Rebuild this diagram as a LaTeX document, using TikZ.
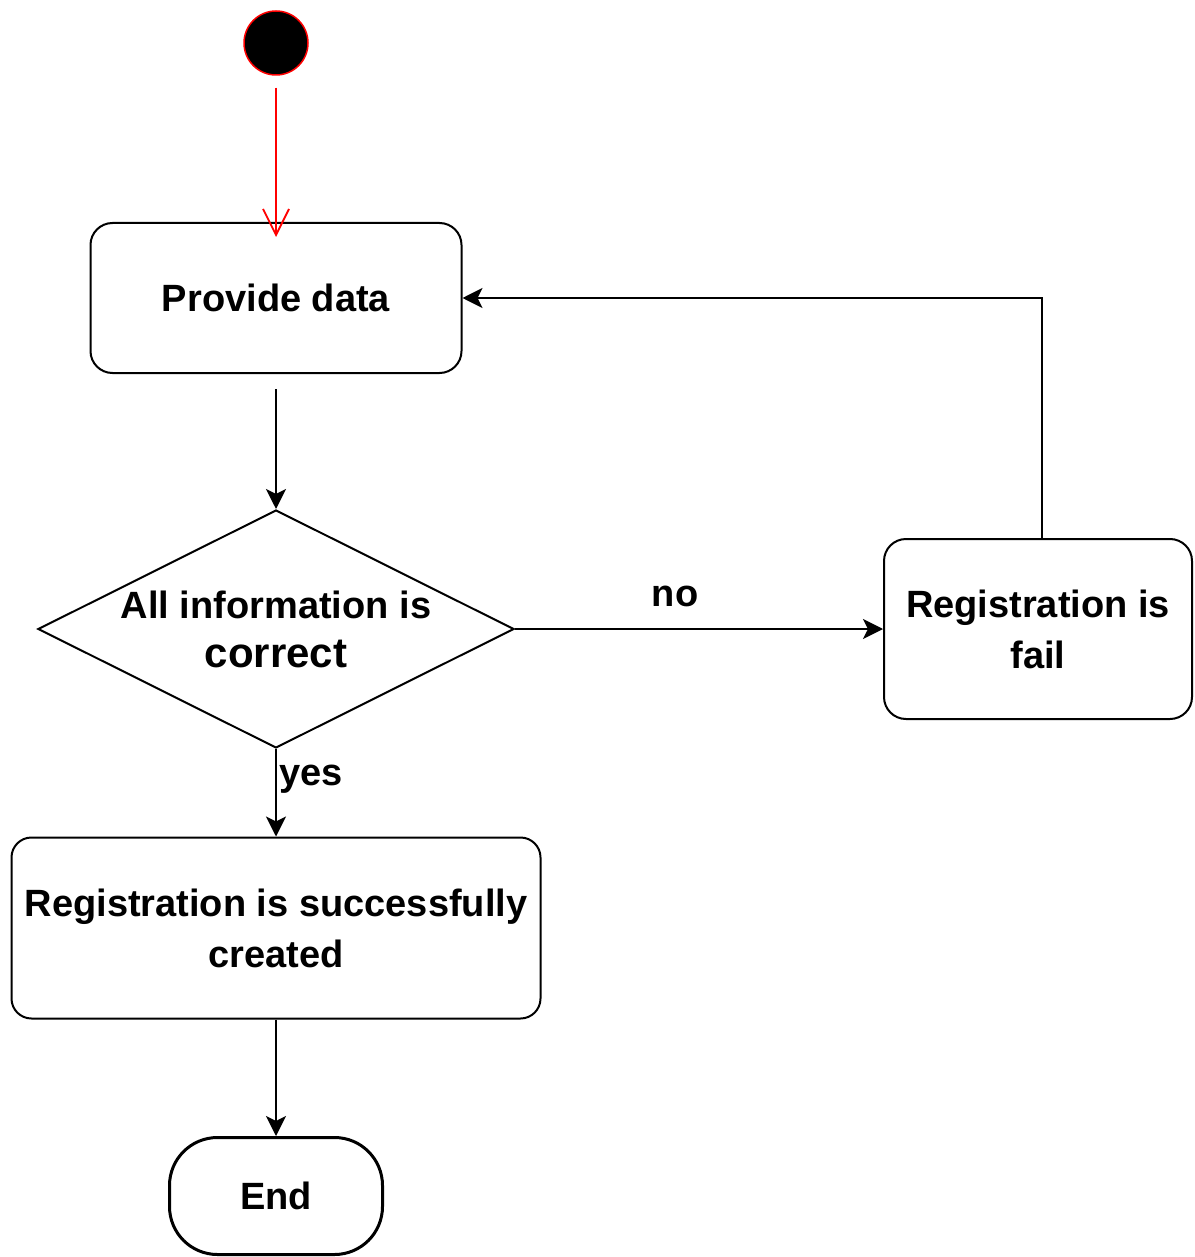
\documentclass[tikz,border=0pt]{standalone}
\usepackage{fontspec}
\setmainfont{Liberation Sans}
\usetikzlibrary{shapes.geometric,arrows.meta}

\begin{document}
\begin{tikzpicture}[x=1pt,y=-1pt,%%
  textStyle/.style={font=\fontsize{38}{51}\selectfont\bfseries,align=center,inner sep=0pt},%%
  boxStyle/.style={textStyle,draw,line width=2pt,rounded corners=22pt},%%
  decisionStyle/.style={textStyle,draw,line width=2pt,diamond,aspect=2,inner ysep=-10pt,%%
    minimum width=476pt,minimum height=238pt},%%
  startStyle/.style={circle,draw=red,fill=black,line width=1.5pt,minimum size=64pt,inner sep=0pt},%%
  endStyle/.style={textStyle,draw,line width=3pt,rounded corners=48pt,minimum width=213pt,minimum height=117pt},%%
  arrowStyle/.style={-{Stealth[length=20pt,width=20pt,inset=5pt]},line width=2pt},%%
  initStyle/.style={-{Straight Barb[length=26pt,width=26pt]},draw=red,line width=1.8pt},%%
  labelStyle/.style={textStyle}%%
]
%%
\useasboundingbox (0,0) rectangle (1194,1257);
%%
\pgfmathsetmacro{\xmain}{276} %% the column of the main flow
\pgfmathsetmacro{\xfail}{1038}
\pgfmathsetmacro{\ydecide}{629}
%%
%% The states and the decision.
\node[startStyle] (startDot) at (\xmain,43) {};
\node[boxStyle,minimum width=371pt,minimum height=150pt] (provideData) at (\xmain,298) {Provide data};
\node[decisionStyle] (infoCheck) at (\xmain,\ydecide)
  {All information is\\[-2pt]\fontsize{42}{55}\selectfont correct};
\node[boxStyle,minimum width=308pt,minimum height=180pt] (regFail) at (\xfail,\ydecide)
  {Registration is\\fail};
\node[boxStyle,minimum width=529pt,minimum height=181pt,rounded corners=20pt] (regSuccess) at (\xmain,928)
  {Registration is successfully\\created};
\node[endStyle] (endState) at (\xmain,1196) {End};
%%
%% The initial transition.
\draw[initStyle,shorten <=12pt,shorten >=-15pt] (startDot) -- (provideData);
%%
%% The main flow.
\draw[arrowStyle,shorten <=15pt] (provideData) -- (infoCheck);
\draw[arrowStyle] (infoCheck) -- node[labelStyle,pos=0.435,yshift=33pt] (noLabel) {no} (regFail);
\draw[arrowStyle] (infoCheck) -- node[labelStyle,pos=0.35,xshift=35pt] (yesLabel) {yes} (regSuccess);
\draw[arrowStyle] (regSuccess) -- (endState);
%%
%% Back to the data when the registration fails.
\draw[arrowStyle] ([xshift=4pt]regFail.north) |- (provideData.east);
\end{tikzpicture}
\end{document}
